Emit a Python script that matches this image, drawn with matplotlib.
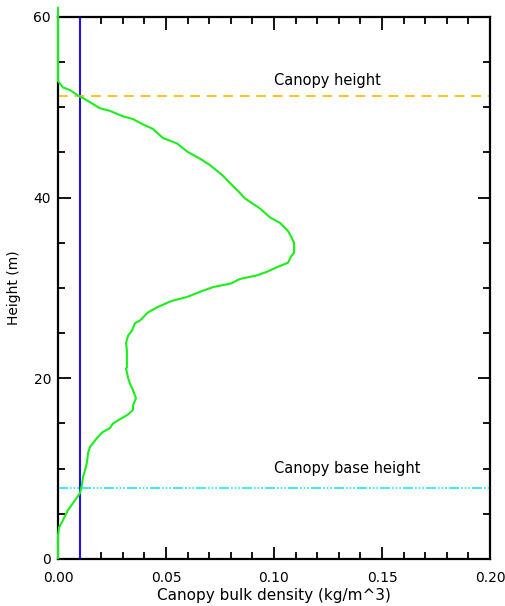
import matplotlib
matplotlib.use('Agg')
import matplotlib.pyplot as plt
from matplotlib.ticker import MultipleLocator, FormatStrFormatter

# vertical profile of canopy bulk density
height = [0.1, 2.6, 3.5, 4.1, 5.4, 6.5, 7.3, 8.2, 9.1, 9.8, 10.7, 11.7, 12.4,
          13.4, 14.0, 14.5, 15.0, 15.6, 15.9, 16.5, 17.0, 17.8, 18.7, 19.4,
          20.1, 21.1, 21.2, 23.1, 23.9, 24.7, 25.3, 26.1, 26.4, 27.3, 27.8,
          28.4, 28.6, 29.0, 29.7, 30.1, 30.5, 31.0, 31.4, 31.8, 32.3, 32.8,
          33.5, 33.9, 35.0, 35.7, 36.3, 37.2, 37.8, 38.8, 39.9, 40.5, 42.5,
          43.6, 44.3, 45.1, 46.0, 46.6, 47.6, 48.1, 48.7, 49.0, 49.6, 49.9,
          50.9, 51.3, 51.9, 52.2, 52.9, 61.0]
density = [0.0, 0.0, 0.0005, 0.0019, 0.0046, 0.0079, 0.0102, 0.0111, 0.0116,
           0.0125, 0.0134, 0.0139, 0.0148, 0.0181, 0.0204, 0.0241, 0.0254,
           0.0296, 0.0319, 0.0347, 0.0347, 0.0361, 0.0347, 0.0333, 0.0324,
           0.0315, 0.0319, 0.0319, 0.0315, 0.0324, 0.0343, 0.0356, 0.0380,
           0.0417, 0.0454, 0.0509, 0.0532, 0.0597, 0.0671, 0.0718, 0.0801,
           0.0843, 0.0922, 0.0968, 0.1014, 0.1065, 0.1079, 0.1093, 0.1093,
           0.1079, 0.1065, 0.1028, 0.0982, 0.0935, 0.0866, 0.0843, 0.0760,
           0.0704, 0.0658, 0.0598, 0.0551, 0.0486, 0.0440, 0.0394, 0.0347,
           0.0301, 0.0241, 0.0194, 0.0125, 0.0093, 0.0056, 0.0023, 0.0, 0.0]

canopy_height = 51.2
canopy_base_height = 7.9
density_threshold = 0.01

plt.rcParams['font.family'] = 'DejaVu Sans'
plt.rcParams['font.size'] = 10

fig = plt.figure(figsize=(5.06, 6.06), dpi=100)
ax = fig.add_axes([0.1146, 0.0776, 0.8538, 0.8944])

ax.plot(density, height, color='#1aef1a', lw=1.5, clip_on=False, zorder=3)
ax.axvline(density_threshold, color='#2a10f0', lw=1.5)
ax.axhline(canopy_height, color='#ffc020', lw=1.4, dashes=(5, 3.5))
ax.axhline(canopy_base_height, color='#20e8ee', lw=1.2,
           dashes=(6, 1.2, 1, 1.2, 1, 1.2, 1, 1.2))

ax.text(0.1, 53.0, 'Canopy height', va='center', ha='left', fontsize=10.5)
ax.text(0.1, 10.0, 'Canopy base height', va='center', ha='left', fontsize=10.5)

ax.set_xlim(0, 0.2)
ax.set_ylim(0, 60)
ax.xaxis.set_major_locator(MultipleLocator(0.05))
ax.xaxis.set_minor_locator(MultipleLocator(0.01))
ax.yaxis.set_major_locator(MultipleLocator(20))
ax.yaxis.set_minor_locator(MultipleLocator(5))
ax.xaxis.set_major_formatter(FormatStrFormatter('%.2f'))
ax.tick_params(which='both', direction='in', top=True, right=True, width=1.3)
ax.tick_params(which='major', length=9)
ax.tick_params(axis='x', which='major', pad=9)
ax.tick_params(axis='y', which='major', pad=5)
ax.tick_params(which='minor', length=5)
for s in ax.spines.values():
    s.set_linewidth(1.6)

ax.set_xlabel('Canopy bulk density (kg/m^3)', fontsize=11, labelpad=2)
ax.set_ylabel('Height (m)', labelpad=9)

fig.savefig('out.png', dpi=100)
